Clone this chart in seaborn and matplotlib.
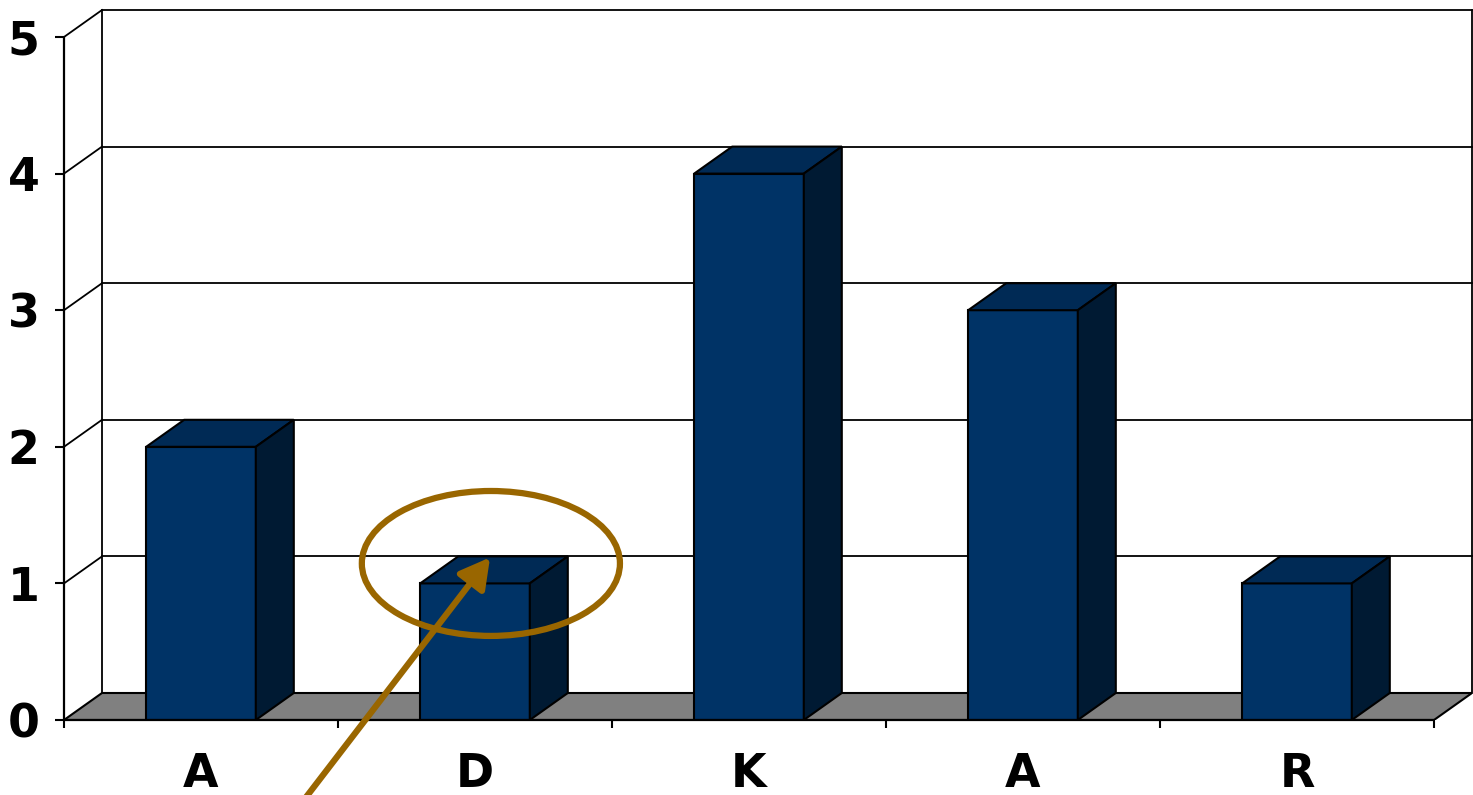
import numpy as np
import pandas as pd
import matplotlib
matplotlib.use("Agg")
import matplotlib.pyplot as plt
from matplotlib.patches import Polygon, Ellipse
import seaborn as sns

# data
letters = ["A", "D", "K", "A", "R"]
counts = [2, 1, 4, 3, 1]
y_ticks = [0, 1, 2, 3, 4, 5]

# colours
front = "#003366"
top = "#002a55"
side = "#001a33"
floor = "#808080"
brown = "#996600"

W, H = 1473, 795
DX, DY = 38 / 274, 27 / 136.6   # depth offset of the fake 3D, in data units
BAR_W = 0.4
X_MAX = 4.5 + DX
Y_MAX = 5 + DY

sns.set_theme(style="white")
plt.rcParams["font.family"] = ["DejaVu Sans"]
plt.rcParams["xtick.labelcolor"] = "black"
plt.rcParams["ytick.labelcolor"] = "black"

fig = plt.figure(figsize=(W / 100, H / 100), dpi=100)
ax = fig.add_axes([64 / W, (H - 720) / H, (1472 - 64) / W, (720 - 10) / H])

df = pd.DataFrame({"slot": range(len(letters)), "count": counts})
sns.barplot(data=df, x="slot", y="count", width=BAR_W, color=front,
            saturation=1, edgecolor="black", linewidth=1.5, ax=ax, zorder=3)

# floor and walls
ax.add_patch(Polygon([(-0.5, 0), (4.5, 0), (X_MAX, DY), (-0.5 + DX, DY)],
                     closed=True, facecolor=floor, edgecolor="black", lw=1.5, zorder=1))
line_kw = dict(color="black", lw=1.3, zorder=1, clip_on=False, solid_capstyle="projecting")
for v in y_ticks[1:]:
    ax.plot([-0.5 + DX, X_MAX], [v + DY, v + DY], **line_kw)
    ax.plot([-0.5, -0.5 + DX], [v, v + DY], **line_kw)
ax.plot([-0.5, -0.5], [0, 5], color="black", lw=1.6, zorder=4, clip_on=False)
ax.plot([-0.5 + DX, -0.5 + DX], [DY, Y_MAX], **line_kw)
ax.plot([X_MAX, X_MAX], [DY, Y_MAX], **line_kw)
ax.plot([-0.5, 4.5], [0, 0], color="black", lw=1.6, zorder=4, clip_on=False)

# tops and sides of the bars
for p in list(ax.patches):
    if p.get_facecolor()[:3] == matplotlib.colors.to_rgb(floor):
        continue
    x0, w, v = p.get_x(), p.get_width(), p.get_height()
    x1 = x0 + w
    ax.add_patch(Polygon([(x0, v), (x1, v), (x1 + DX, v + DY), (x0 + DX, v + DY)],
                         closed=True, facecolor=top, edgecolor="black", lw=1.5, zorder=3))
    ax.add_patch(Polygon([(x1, 0), (x1 + DX, DY), (x1 + DX, v + DY), (x1, v)],
                         closed=True, facecolor=side, edgecolor="black", lw=1.5, zorder=3))

ax.set_xlim(-0.5, X_MAX)
ax.set_ylim(0, Y_MAX)
for s in ax.spines.values():
    s.set_visible(False)

ax.set_yticks(y_ticks)
ax.set_yticklabels([str(t) for t in y_ticks], fontweight="bold", fontsize=33, color="black")
ax.tick_params(axis="y", left=True, length=6.5, width=1.5, pad=11, color="black")
ax.set_xticks(range(len(letters)))
ax.set_xticklabels(letters, fontweight="bold", fontsize=33, color="black")
ax.set_xticks(np.arange(-0.5, 5, 1), minor=True)
ax.tick_params(axis="x", which="major", bottom=True, length=0, pad=23)
ax.tick_params(axis="x", which="minor", bottom=True, length=6, width=1.5, color="black")
ax.set_xlabel("")
ax.set_ylabel("")

# annotation
ax.add_patch(Ellipse((1.058, 1.146), 0.942, 1.061, fill=False,
                     edgecolor=brown, lw=4.5, zorder=6))
ax.annotate("", xy=(1.055, 1.19), xytext=(0.37, -0.6),
            arrowprops=dict(arrowstyle="-|>,head_length=0.9,head_width=0.5",
                            mutation_scale=20, color=brown, lw=4.5,
                            shrinkA=0, shrinkB=0),
            annotation_clip=False, zorder=7)

fig.savefig("out.png", dpi=100)
